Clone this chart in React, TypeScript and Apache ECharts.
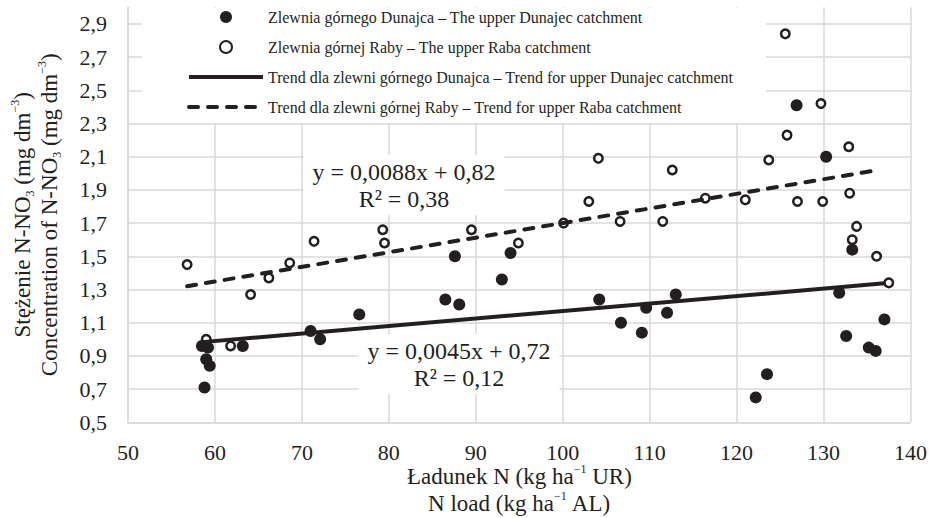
import React, { useEffect, useRef } from 'react';
import * as echarts from 'echarts';

// ---- data ----
const seriesNames = [
  'Zlewnia górnego Dunajca – The upper Dunajec catchment',
  'Zlewnia górnej Raby – The upper Raba catchment',
  'Trend dla zlewni górnego Dunajca – Trend for upper Dunajec catchment',
  'Trend dla zlewni górnej Raby – Trend for upper Raba catchment',
];

// N load (kg/ha AL), N-NO3 concentration (mg/dm3)
const dunajecPoints: [number, number][] = [
  [58.5, 0.96], [59.2, 0.95], [59.0, 0.88], [59.4, 0.84], [58.8, 0.71],
  [63.2, 0.96], [71.0, 1.05], [72.1, 1.0], [76.6, 1.15], [87.6, 1.5],
  [86.5, 1.24], [88.1, 1.21], [93.0, 1.36], [94.0, 1.52], [104.2, 1.24],
  [106.7, 1.1], [109.1, 1.04], [109.6, 1.19], [112.0, 1.16], [113.0, 1.27],
  [122.2, 0.65], [123.5, 0.79], [126.9, 2.41], [130.3, 2.1], [131.8, 1.28],
  [132.6, 1.02], [133.3, 1.54], [135.2, 0.95], [136.0, 0.93], [137.0, 1.12],
];

const rabaPoints: [number, number][] = [
  [56.8, 1.45], [59.0, 1.0], [61.8, 0.96], [64.1, 1.27], [66.2, 1.37],
  [68.6, 1.46], [71.4, 1.59], [79.3, 1.66], [79.5, 1.58], [89.5, 1.66],
  [94.9, 1.58], [100.1, 1.7], [103.0, 1.83], [104.1, 2.09], [106.6, 1.71],
  [111.5, 1.71], [112.6, 2.02], [116.4, 1.85], [121.0, 1.84], [123.7, 2.08],
  [125.6, 2.84], [125.8, 2.23], [127.0, 1.83], [129.7, 2.42], [129.9, 1.83],
  [132.9, 2.16], [133.0, 1.88], [133.8, 1.68], [133.3, 1.6], [136.1, 1.5],
  [137.5, 1.34],
];

const dunajecTrend: [number, number][] = [[58.5, 0.983], [137.0, 1.337]];
const rabaTrend: [number, number][] = [[56.8, 1.32], [136.2, 2.019]];

const dunajecEquation = ['y = 0,0045x + 0,72', 'R² = 0,12'];
const rabaEquation = ['y = 0,0088x + 0,82', 'R² = 0,38'];

const xTitle = '{m|Ładunek N (kg ha}{sup|−1}{m| UR)}\n{m|N load (kg ha}{sup|−1}{m| AL)}';
const yTitle = '{m|Stężenie N-NO}{sub|3}{m| (mg dm}{sup|−3}{m|)}\n{m|Concentration of N-NO}{sub|3}{m| (mg dm}{sup|−3}{m|)}';

const xAxisRange = { min: 50, max: 140, step: 10 };
const yAxisRange = { min: 0.5, max: 3.0, step: 0.2 };

// ---- styles ----
const FONT = 'Liberation Serif';
const INK = '#231f20';
const GRID = '#d9d9d9';
const DASH = [9, 10];

export default function App() {
  const ref = useRef<HTMLDivElement>(null);

  useEffect(() => {
    if (!ref.current) return;
    const chart = echarts.init(ref.current, undefined, { renderer: 'svg' });

    const richTitle = (lh: number) => ({
      m: { fontFamily: FONT, fontSize: 23, fill: INK, lineHeight: lh },
      sub: { fontFamily: FONT, fontSize: 12, fill: INK, lineHeight: 12, verticalAlign: 'bottom' },
      sup: { fontFamily: FONT, fontSize: 12, fill: INK, lineHeight: 12, verticalAlign: 'top' },
    });

    chart.setOption({
      animation: false,
      textStyle: { fontFamily: FONT, color: INK },
      grid: { left: 128, right: 24.5, top: 7.3, bottom: 95.7, containLabel: false, outerBoundsMode: 'none' },
      legend: {
        orient: 'vertical',
        left: 187,
        top: 9,
        padding: 0,
        itemWidth: 74,
        itemHeight: 12,
        itemGap: 14,
        data: [
          { name: seriesNames[0] },
          { name: seriesNames[1] },
          { name: seriesNames[2], itemStyle: { opacity: 0 }, lineStyle: { width: 4, color: INK } },
          { name: seriesNames[3], itemStyle: { opacity: 0 }, lineStyle: { width: 4, color: INK, type: DASH, cap: 'round' } },
        ],
        selectedMode: false,
        textStyle: { fontFamily: FONT, fontSize: 16, color: INK, lineHeight: 16 },
        z: 5,
      },
      xAxis: {
        type: 'value',
        min: xAxisRange.min,
        max: xAxisRange.max,
        interval: xAxisRange.step,
        axisLine: { show: true, lineStyle: { color: GRID, width: 1.5 } },
        axisTick: { show: false },
        splitLine: { show: true, lineStyle: { color: GRID, width: 1.5 } },
        axisLabel: { fontFamily: FONT, fontSize: 22, color: INK, margin: 19 },
      },
      yAxis: {
        type: 'value',
        min: yAxisRange.min,
        max: yAxisRange.max,
        interval: yAxisRange.step,
        axisLine: { show: true, lineStyle: { color: GRID, width: 1.5 } },
        axisTick: { show: false },
        splitLine: { show: true, showMaxLine: false, lineStyle: { color: GRID, width: 1.5 } },
        axisLabel: {
          fontFamily: FONT, fontSize: 22, color: INK, margin: 21,
          showMaxLabel: false,
          formatter: (v: number) => v.toFixed(1).replace('.', ','),
        },
      },
      graphic: [
        { type: 'rect', shape: { x: 142, y: 8, width: 624, height: 115 }, style: { fill: '#ffffff' }, z: 1, silent: true },
        {
          type: 'text', x: 404, y: 185, z: 1, silent: true,
          style: {
            text: rabaEquation.join('\n'), fontFamily: FONT, fontSize: 24, fill: INK,
            align: 'center', verticalAlign: 'middle', lineHeight: 27,
            backgroundColor: '#ffffff', padding: [3, 9],
          },
        },
        {
          type: 'text', x: 459, y: 364, z: 1, silent: true,
          style: {
            text: dunajecEquation.join('\n'), fontFamily: FONT, fontSize: 24, fill: INK,
            align: 'center', verticalAlign: 'middle', lineHeight: 27,
            backgroundColor: '#ffffff', padding: [3, 9],
          },
        },
        {
          type: 'text', x: 519.4, y: 490, z: 1, silent: true,
          style: {
            text: xTitle, fontFamily: FONT, fontSize: 23, fill: INK,
            align: 'center', verticalAlign: 'middle', lineHeight: 27,
            rich: richTitle(27),
          },
        },
        {
          type: 'text', x: 35.5, y: 214.8, rotation: Math.PI / 2, z: 1, silent: true,
          style: {
            text: yTitle, fontFamily: FONT, fontSize: 23, fill: INK,
            align: 'center', verticalAlign: 'middle', lineHeight: 27,
            rich: richTitle(27),
          },
        },
      ],
      series: [
        {
          name: seriesNames[1],
          type: 'scatter',
          data: rabaPoints,
          symbol: 'circle',
          symbolSize: 8.5,
          itemStyle: { color: '#ffffff', borderColor: INK, borderWidth: 2.5, opacity: 1 },
          z: 2,
          silent: true,
        },
        {
          name: seriesNames[0],
          type: 'scatter',
          data: dunajecPoints,
          symbol: 'circle',
          symbolSize: 12,
          itemStyle: { color: INK, opacity: 1 },
          z: 3,
          silent: true,
        },
        {
          name: seriesNames[2],
          type: 'line',
          data: dunajecTrend,
          symbol: 'none',
          lineStyle: { color: INK, width: 4 },
          itemStyle: { color: INK },
          z: 4,
          silent: true,
        },
        {
          name: seriesNames[3],
          type: 'line',
          data: rabaTrend,
          symbol: 'none',
          lineStyle: { color: INK, width: 4, type: DASH, cap: 'round' },
          itemStyle: { color: INK },
          z: 4,
          silent: true,
        },
      ],
    });

    return () => chart.dispose();
  }, []);

  return (
    <div style={{ position: 'fixed', left: 0, top: 0, width: 935, height: 518, background: '#ffffff' }}>
      <style>{'#nno3-chart text, #nno3-chart tspan { font-family: "Liberation Serif", serif !important; }'}</style>
      <div id="nno3-chart" ref={ref} style={{ width: 935, height: 518 }} />
    </div>
  );
}
